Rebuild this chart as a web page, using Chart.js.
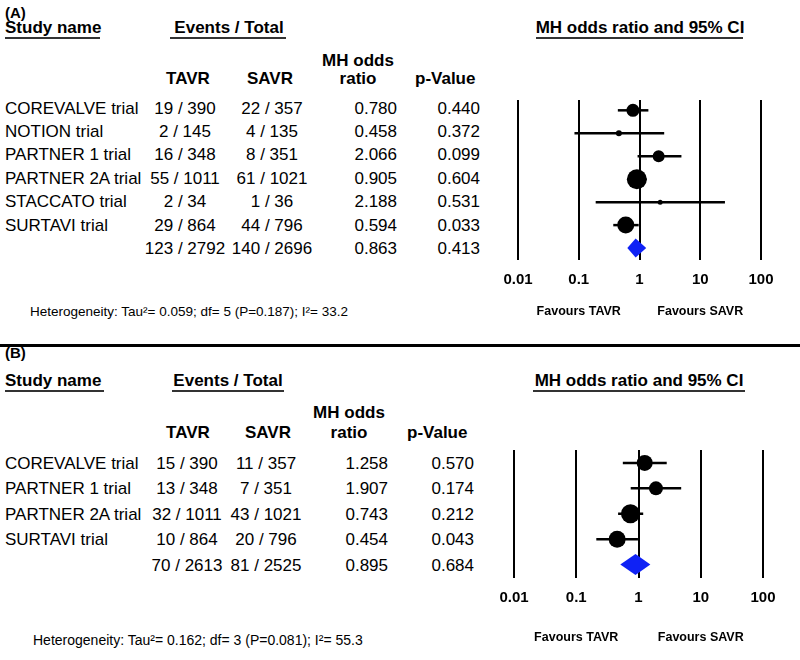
<!DOCTYPE html>
<html>
<head>
<meta charset="utf-8">
<script src="https://cdn.jsdelivr.net/npm/chart.js@4.4.0/dist/chart.umd.min.js"></script>
<style>
  body { margin: 0; background: #fff; }
  #page { position: relative; width: 800px; height: 660px; overflow: hidden;
          font-family: Arial, "Liberation Sans", sans-serif; color: #000; }
  .t { position: absolute; white-space: nowrap; line-height: 1; }
  .rule { position: absolute; background: #333; }
  canvas { position: absolute; }
</style>
</head>
<body>
<div id="page">
  <canvas id="forestA"></canvas>
  <canvas id="forestB"></canvas>
</div>
<script>
// (A) all six trials, last row = pooled
const studiesA = ['COREVALVE trial', 'NOTION trial', 'PARTNER 1 trial', 'PARTNER 2A trial', 'STACCATO trial', 'SURTAVI trial', ''];
const tavrEventsA = [19, 2, 16, 55, 2, 29, 123];
const tavrTotalA = [390, 145, 348, 1011, 34, 864, 2792];
const savrEventsA = [22, 4, 8, 61, 1, 44, 140];
const savrTotalA = [357, 135, 351, 1021, 36, 796, 2696];
const oddsA = [0.780, 0.458, 2.066, 0.905, 2.188, 0.594, 0.863];
const pValuesA = [0.440, 0.372, 0.099, 0.604, 0.531, 0.033, 0.413];
const lowerA = [0.44, 0.085, 0.93, 0.63, 0.19, 0.37, 0.63];
const upperA = [1.40, 2.55, 4.9, 1.30, 25.5, 0.97, 1.29];
const heteroA = 'Heterogeneity: Tau\u00b2= 0.059; df= 5 (P=0.187); I\u00b2= 33.2';

// (B) four trials
const studiesB = ['COREVALVE trial', 'PARTNER 1 trial', 'PARTNER 2A trial', 'SURTAVI trial', ''];
const tavrEventsB = [15, 13, 32, 10, 70];
const tavrTotalB = [390, 348, 1011, 864, 2613];
const savrEventsB = [11, 7, 43, 20, 81];
const savrTotalB = [357, 351, 1021, 796, 2525];
const oddsB = [1.258, 1.907, 0.743, 0.454, 0.895];
const pValuesB = [0.570, 0.174, 0.212, 0.043, 0.684];
const lowerB = [0.56, 0.75, 0.47, 0.21, 0.51];
const upperB = [2.84, 4.85, 1.19, 0.98, 1.55];
const heteroB = 'Heterogeneity: Tau\u00b2= 0.162; df= 3 (P=0.081); I\u00b2= 55.3';

const tickValues = [0.01, 0.1, 1, 10, 100];
const tickLabels = ['0.01', '0.1', '1', '10', '100'];

// marker radius (study weight) - style only
const radiiA = [6.5, 3, 6, 10, 2.5, 8.5];
const radiiB = [8, 7, 9.5, 8.5];

const page = document.getElementById('page');

function addText(text, x, y, size, bold, align) {
   const el = document.createElement('div');
   el.className = 't';
   el.textContent = text;
   el.style.fontSize = size + 'px';
   el.style.fontWeight = bold ? 'bold' : 'normal';
   el.style.left = x + 'px';
   el.style.top = y + 'px';
   const tx = align === 'center' ? '-50%' : align === 'right' ? '-100%' : '0';
   el.style.transform = `translate(${tx}, -50%)`;
   page.appendChild(el);
}

function addRule(x1, x2, y, h, color) {
   const el = document.createElement('div');
   el.className = 'rule';
   el.style.left = x1 + 'px';
   el.style.width = (x2 - x1) + 'px';
   el.style.top = y + 'px';
   el.style.height = h + 'px';
   if (color) el.style.background = color;
   page.appendChild(el);
}

function drawTable(L, names, tE, tT, sE, sT, odds, pv, hetero) {
   addText(L.label, 5, L.labelY, 15, true, 'left');
   addText('Study name', 5, L.headY, 17, true, 'left');
   addRule(L.nameUnder[0], L.nameUnder[1], L.headUnderY, 1.5);
   addText('Events / Total', L.eventsX, L.headY, 17, true, 'center');
   addRule(L.eventsUnder[0], L.eventsUnder[1], L.headUnderY, 1.5);
   addText('MH odds ratio and 95% CI', L.ciX, L.headY, 17, true, 'center');
   addRule(L.ciUnder[0], L.ciUnder[1], L.headUnderY, 1.5);

   addText('MH odds', L.mhX, L.sub1Y, 17, true, 'center');
   addText('ratio', L.mhX, L.sub2Y, 17, true, 'center');
   addText('TAVR', L.tavrHeadX, L.sub2Y, 17, true, 'center');
   addText('SAVR', L.savrHeadX, L.sub2Y, 17, true, 'center');
   addText('p-Value', L.pHeadX, L.sub2Y, 17, true, 'left');

   names.forEach((name, i) => {
      const y = L.rowY0 + i * L.rowStep;
      if (name) addText(name, 5, y, 17, false, 'left');
      addText(`${tE[i]} / ${tT[i]}`, L.colTavr, y, 17, false, 'center');
      addText(`${sE[i]} / ${sT[i]}`, L.colSavr, y, 17, false, 'center');
      addText(odds[i].toFixed(3), L.colOr, y, 17, false, 'right');
      addText(pv[i].toFixed(3), L.colP, y, 17, false, 'right');
   });

   addText(hetero, L.hetX, L.hetY, L.hetSize, false, 'left');
}

// diamond for pooled estimate + "Favours" captions under the axis
const forestExtras = {
   id: 'forestExtras',
   afterDatasetsDraw(chart, args, opts) {
      const { ctx, chartArea } = chart;
      const x = chart.scales.x, y = chart.scales.y;
      const xl = x.getPixelForValue(opts.lo);
      const xm = x.getPixelForValue(opts.est);
      const xh = x.getPixelForValue(opts.hi);
      const ym = y.getPixelForValue(opts.row);
      ctx.save();
      ctx.fillStyle = '#0f22f5';
      ctx.beginPath();
      ctx.moveTo(xl, ym);
      ctx.lineTo(xm, ym - opts.half);
      ctx.lineTo(xh, ym);
      ctx.lineTo(xm, ym + opts.half);
      ctx.closePath();
      ctx.fill();

      ctx.fillStyle = '#000';
      ctx.font = 'bold 12.5px Arial, "Liberation Sans", sans-serif';
      ctx.textAlign = 'center';
      ctx.textBaseline = 'middle';
      ctx.fillText('Favours TAVR', x.getPixelForValue(0.1), chartArea.bottom + opts.favGap);
      ctx.fillText('Favours SAVR', x.getPixelForValue(10), chartArea.bottom + opts.favGap);
      ctx.restore();
   }
};

function makeForest(id, box, odds, lower, upper, radii, yMin, yMax, half, favGap) {
   const canvas = document.getElementById(id);
   canvas.width = box.w;
   canvas.height = box.h;
   canvas.style.left = box.left + 'px';
   canvas.style.top = box.top + 'px';
   canvas.style.width = box.w + 'px';
   canvas.style.height = box.h + 'px';

   const last = odds.length - 1;
   const datasets = [];

   // point estimates
   datasets.push({
      data: odds.slice(0, last).map((v, i) => ({ x: v, y: i })),
      pointRadius: radii,
      pointHoverRadius: radii,
      backgroundColor: '#000',
      borderWidth: 0,
      order: 0
   });

   // confidence intervals
   for (let i = 0; i < last; i++) {
      datasets.push({
         data: [{ x: lower[i], y: i }, { x: upper[i], y: i }],
         showLine: true,
         borderColor: '#000',
         borderWidth: 2.5,
         pointRadius: 0,
         order: 1
      });
   }

   return new Chart(canvas.getContext('2d'), {
      type: 'scatter',
      data: { datasets: datasets },
      options: {
         responsive: false,
         animation: false,
         layout: { padding: box.pad },
         plugins: {
            legend: { display: false },
            tooltip: { enabled: false },
            forestExtras: { lo: lower[last], est: odds[last], hi: upper[last], row: last, half: half, favGap: favGap }
         },
         scales: {
            x: {
               type: 'logarithmic',
               min: 0.01,
               max: 100,
               afterBuildTicks: (scale) => { scale.ticks = tickValues.map(v => ({ value: v })); },
               ticks: {
                  padding: 11,
                  color: '#000',
                  font: { family: 'Arial, "Liberation Sans", sans-serif', size: 15, weight: 'bold' },
                  callback: (v, i) => tickLabels[i],
                  autoSkip: false,
                  maxRotation: 0
               },
               grid: { color: '#000', lineWidth: 2, drawTicks: false },
               border: { display: false }
            },
            y: {
               type: 'linear',
               reverse: true,
               min: yMin,
               max: yMax,
               display: false
            }
         }
      },
      plugins: [forestExtras]
   });
}

const layoutA = {
   label: '(A)', labelY: 12, headY: 27, headUnderY: 37,
   nameUnder: [5, 100], eventsX: 229, eventsUnder: [170, 286], ciX: 640, ciUnder: [536, 743],
   sub1Y: 60, sub2Y: 78, mhX: 358, tavrHeadX: 188, savrHeadX: 270, pHeadX: 415,
   rowY0: 107.5, rowStep: 23.4, colTavr: 185, colSavr: 272, colOr: 397, colP: 480,
   hetX: 30, hetY: 312, hetSize: 13.5
};

const layoutB = {
   label: '(B)', labelY: 352, headY: 380, headUnderY: 390,
   nameUnder: [5, 104], eventsX: 228, eventsUnder: [172, 284], ciX: 639, ciUnder: [533, 745],
   sub1Y: 412, sub2Y: 432, mhX: 349, tavrHeadX: 188, savrHeadX: 268, pHeadX: 407,
   rowY0: 463, rowStep: 25.4, colTavr: 187, colSavr: 266, colOr: 388, colP: 474,
   hetX: 33, hetY: 640, hetSize: 14
};

drawTable(layoutA, studiesA, tavrEventsA, tavrTotalA, savrEventsA, savrTotalA, oddsA, pValuesA, heteroA);
drawTable(layoutB, studiesB, tavrEventsB, tavrTotalB, savrEventsB, savrTotalB, oddsB, pValuesB, heteroB);

// separator between panels
addRule(0, 800, 344, 3, '#000');

makeForest('forestA', { left: 490, top: 90, w: 300, h: 235, pad: { left: 28, right: 29, top: 7, bottom: 25 } },
   oddsA, lowerA, upperA, radiiA, -0.45, 6.52, 9.5, 52);
makeForest('forestB', { left: 484, top: 440, w: 310, h: 215, pad: { left: 30, right: 31, top: 10, bottom: 37 } },
   oddsB, lowerB, upperB, radiiB, -0.51, 4.53, 10.5, 60);
</script>
</body>
</html>
